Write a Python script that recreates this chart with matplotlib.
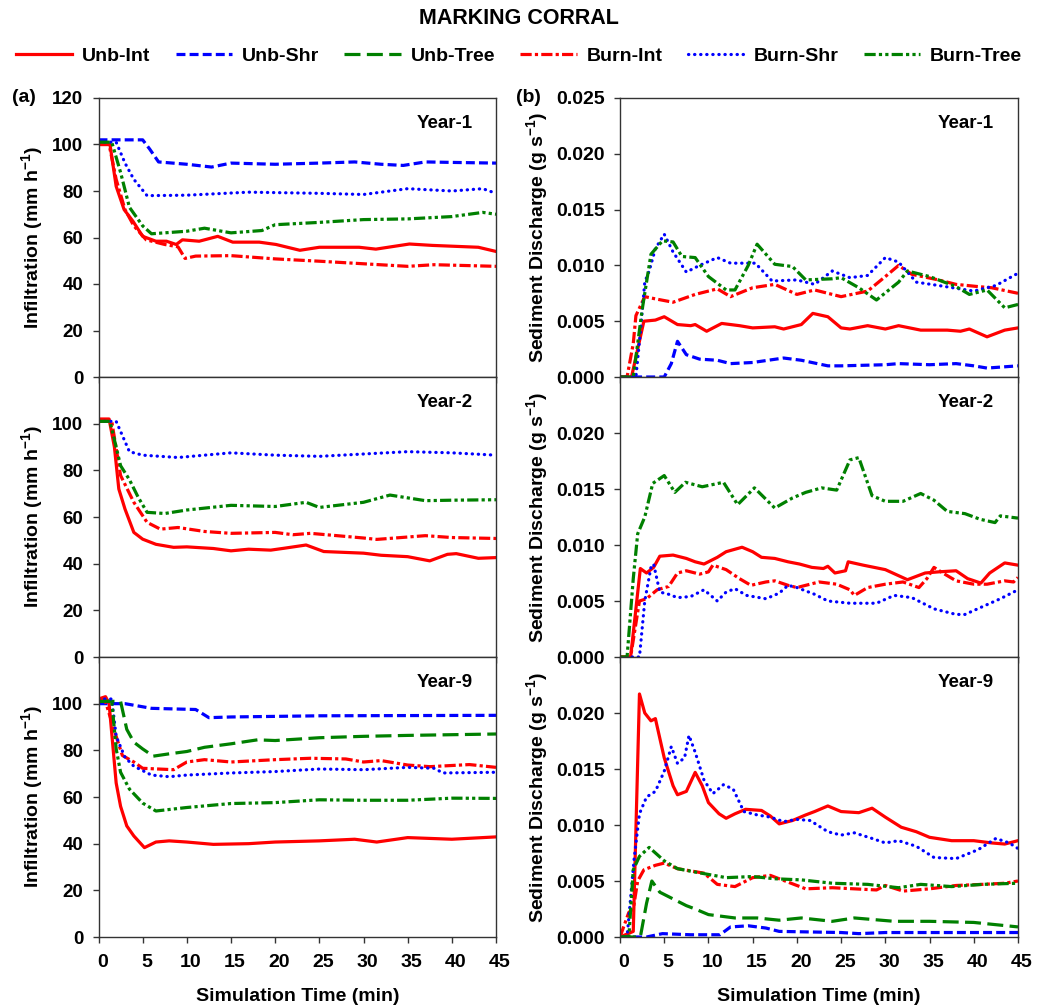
import matplotlib
matplotlib.use("Agg")
import matplotlib.pyplot as plt
import matplotlib.transforms as mtransforms
from matplotlib.lines import Line2D

plt.rcParams['font.family'] = ['Liberation Sans', 'DejaVu Sans']
plt.rcParams['font.weight'] = 'bold'
plt.rcParams['axes.labelweight'] = 'bold'
plt.rcParams['mathtext.fontset'] = 'custom'
plt.rcParams['mathtext.rm'] = 'Liberation Sans:bold'
plt.rcParams['mathtext.it'] = 'Liberation Sans:bold'
plt.rcParams['mathtext.bf'] = 'Liberation Sans:bold'

# ── Data: (time min, value) ──────────────────────────────────────────────
# Infiltration (mm/h)
inf_y1_unb_int = [(0, 100), (1.3, 100), (2, 82), (2.9, 72), (3.9, 67), (5, 60.5), (6.5, 58.4),
                  (7.7, 58.4), (8.8, 57), (9.5, 59), (11.4, 58.4), (13.5, 60.5), (15.2, 58),
                  (18.2, 58), (20.1, 57), (22.8, 54.5), (25, 55.8), (29.5, 55.8), (31.4, 55),
                  (35.2, 57.2), (37.8, 56.6), (43, 55.8), (45, 54)]
inf_y1_unb_shr = [(0, 102), (5, 102), (5.8, 98), (6.8, 92.5), (10, 91.5), (12.8, 90.3), (15, 92),
                  (20, 91.5), (25, 92), (29, 92.5), (32, 91.5), (34.5, 91), (37, 92.5),
                  (40, 92.3), (45, 92)]
inf_y1_burn_int = [(0, 100), (1.2, 100), (2, 85), (3, 72), (4, 65), (5.4, 59), (7.5, 57), (9, 56),
                   (9.8, 51), (11, 52), (15, 52.2), (20, 50.8), (25, 49.8), (30, 48.7),
                   (35, 47.6), (38, 48.3), (45, 47.6)]
inf_y1_burn_shr = [(0, 101), (2, 101), (3, 92), (4, 85), (5.5, 78), (10, 78.2), (17, 79.5),
                   (25, 79), (30, 78.5), (35, 81), (40, 80), (43.5, 81), (45, 79)]
inf_y1_burn_tree = [(0, 101), (1.5, 101), (2.5, 88), (3.5, 73), (5, 65), (6, 61.6), (10, 62.7),
                    (12, 64), (15, 62), (18.5, 63), (20, 65.5), (25, 66.5), (30, 67.7),
                    (35, 68), (40, 69), (43.5, 70.8), (45, 70)]

inf_y2_unb_int = [(0, 102), (1.2, 102), (1.8, 90), (2.3, 72), (3, 63.4), (4, 53.4), (5, 50.5),
                  (6.5, 48.3), (8.5, 47), (10, 47.2), (13, 46.5), (15, 45.5), (17, 46.2),
                  (19.5, 45.8), (21, 46.6), (23.5, 48), (25.5, 45.2), (30, 44.5), (32, 43.6),
                  (35, 43), (37.5, 41.2), (39.5, 44), (40.5, 44.3), (43, 42.3), (45, 42.6)]
inf_y2_burn_int = [(0, 101), (1.5, 101), (2.5, 77.8), (4, 66.3), (5.5, 57.7), (7, 54.8),
                   (9, 55.5), (12, 53.8), (15, 53), (20, 53.4), (22, 52.4), (24, 53), (30, 51),
                   (31.5, 50.4), (37, 52), (40, 51.2), (45, 50.8)]
inf_y2_burn_shr = [(0, 101), (2, 101), (3.5, 88), (5, 86.5), (9, 85.5), (15, 87.5), (20, 86.5),
                   (25, 86), (30, 87), (35, 88), (40, 87.5), (45, 86.5)]
inf_y2_burn_tree = [(0, 101), (1.3, 101), (2.5, 82), (3.5, 76), (4.5, 68.4), (5.5, 62),
                    (7.5, 61.5), (10, 63), (15, 65), (20, 64.5), (23.5, 66.3), (25, 64.1),
                    (30, 66.3), (33, 69.4), (37, 67), (40, 67.2), (45, 67.4)]

inf_y9_unb_int = [(0, 102), (0.8, 103), (1.2, 100), (2, 66), (2.5, 56), (3.2, 47.6), (4, 43.3),
                  (5.2, 38.3), (6.5, 40.7), (8, 41.2), (10, 40.7), (13, 39.7), (17, 40),
                  (20, 40.7), (25, 41.2), (29, 41.9), (31.5, 40.7), (35, 42.6), (40, 41.9),
                  (45, 42.9)]
inf_y9_unb_shr = [(0, 100), (3, 100), (6, 98), (11, 97.5), (12.5, 94), (15, 94.3), (25, 94.8),
                  (45, 95)]
inf_y9_unb_tree = [(0, 101), (2.5, 101), (3.2, 89), (4, 83.5), (5, 80.6), (6.2, 77.5), (8, 78.5),
                   (10, 79.5), (12, 81.3), (15, 82.8), (18, 84.5), (20, 84.2), (25, 85.4),
                   (30, 86), (35, 86.4), (45, 87)]
inf_y9_burn_int = [(0, 102), (0.7, 102), (2, 86), (2.7, 77.8), (4, 75), (5, 72.3), (8.5, 71.7),
                   (10, 75), (12, 76), (15, 75), (20, 76), (24, 76.6), (28, 76.3), (30, 75),
                   (32, 75.6), (35, 73.7), (37.5, 73), (42, 73.9), (45, 72.7)]
inf_y9_burn_shr = [(0, 102), (1.5, 102), (2, 86), (3, 77), (4, 73.2), (6, 69.4), (8, 68.7),
                   (10, 69.4), (15, 70.3), (20, 70.9), (25, 72), (30, 71.7), (35, 72.7),
                   (38, 72.3), (39, 70.3), (45, 70.6)]
inf_y9_burn_tree = [(0, 101), (1.5, 101), (2, 80.6), (2.5, 70.6), (3.5, 63.4), (5, 57.4),
                    (6.5, 54), (10, 55.5), (15, 57.2), (20, 57.6), (25, 58.8), (30, 58.6),
                    (35, 58.6), (40, 59.5), (45, 59.4)]

# Sediment discharge (g/s)
sed_y1_unb_int = [(0, 0), (1.3, 0), (2.7, 0.0050), (4, 0.0051), (5, 0.0054), (6.5, 0.0047),
                  (8, 0.0046), (8.5, 0.0047), (9.8, 0.0041), (11.5, 0.0048), (13.5, 0.0046),
                  (15, 0.0044), (17.5, 0.0045), (18.5, 0.0043), (20.5, 0.0047), (21.8, 0.0057),
                  (23.5, 0.0054), (25, 0.0044), (26, 0.0043), (28, 0.0046), (30, 0.0043),
                  (31.5, 0.0046), (34, 0.0042), (37, 0.0042), (38.5, 0.0041), (39.5, 0.0043),
                  (41.5, 0.0036), (43.5, 0.0042), (45, 0.0044)]
sed_y1_unb_shr = [(0, 0), (5, 0), (5.8, 0.0012), (6.5, 0.0032), (7.5, 0.0020), (9, 0.0016),
                  (11, 0.0015), (12.5, 0.0012), (15, 0.0013), (18.5, 0.0017), (20.5, 0.0015),
                  (23.5, 0.0010), (25, 0.0010), (30, 0.0011), (31.5, 0.0012), (35, 0.0011),
                  (38, 0.0012), (40, 0.0010), (41.5, 0.0008), (45, 0.0010)]
sed_y1_burn_int = [(0, 0), (0.8, 0), (1.5, 0.0030), (1.8, 0.0055), (2.8, 0.0072), (4, 0.0070),
                   (6, 0.0067), (8.5, 0.0074), (11, 0.0079), (12.5, 0.0072), (15, 0.0080),
                   (17.5, 0.0083), (20, 0.0074), (22, 0.0078), (25, 0.0072), (28, 0.0077),
                   (30, 0.0090), (31.5, 0.0100), (33, 0.0092), (36, 0.0087), (38, 0.0083),
                   (40.5, 0.0081), (42, 0.0080), (45, 0.0075)]
sed_y1_burn_shr = [(0, 0), (1.8, 0), (2.3, 0.0040), (2.8, 0.0085), (3.3, 0.0095), (4, 0.0115),
                   (5, 0.0128), (6, 0.0112), (7.5, 0.0094), (9, 0.0100), (11, 0.0107),
                   (12.5, 0.0102), (15.3, 0.0102), (17.2, 0.0086), (20, 0.0087), (22, 0.0083),
                   (24, 0.0095), (26, 0.0089), (28, 0.0091), (30, 0.0107), (31.5, 0.0103),
                   (33.5, 0.0085), (36, 0.0082), (40, 0.0077), (42.5, 0.0082), (45, 0.0093)]
sed_y1_burn_tree = [(0, 0), (1.5, 0), (2.5, 0.0060), (3.5, 0.0110), (4.8, 0.0122), (6, 0.0121),
                    (7, 0.0108), (8.5, 0.0107), (10, 0.0090), (12, 0.0078), (13, 0.0078),
                    (14.5, 0.0100), (15.5, 0.0119), (17.5, 0.0101), (19.5, 0.0099),
                    (21, 0.0087), (24, 0.0088), (25, 0.0089), (27, 0.0080), (29, 0.0069),
                    (31.5, 0.0085), (32.5, 0.0095), (35, 0.0090), (38, 0.0081),
                    (39.5, 0.0074), (41.5, 0.0078), (43.5, 0.0062), (45, 0.0065)]

sed_y2_unb_int = [(0, 0), (1.2, 0), (2.3, 0.0079), (3, 0.0075), (3.8, 0.0080), (4.5, 0.0090),
                  (6, 0.0091), (7.5, 0.0088), (8.5, 0.0085), (9.5, 0.0083), (11, 0.0089),
                  (12, 0.0094), (13.8, 0.0098), (15, 0.0094), (16, 0.0089), (17.5, 0.0088),
                  (19, 0.0085), (20.3, 0.0083), (21.7, 0.0080), (23, 0.0079), (23.5, 0.0081),
                  (24.3, 0.0075), (25.5, 0.0077), (25.8, 0.0085), (27.5, 0.0082),
                  (30, 0.0078), (32.5, 0.0069), (34.5, 0.0075), (36, 0.0076), (38, 0.0077),
                  (39.3, 0.0070), (40.8, 0.0066), (41.8, 0.0075), (43.5, 0.0084), (45, 0.0082)]
sed_y2_burn_int = [(0, 0), (1.2, 0), (2.2, 0.0050), (3, 0.0052), (4.2, 0.0060), (5.5, 0.0063),
                   (6.5, 0.0075), (7.5, 0.0077), (9, 0.0074), (10, 0.0076), (10.5, 0.0082),
                   (12, 0.0078), (13.5, 0.0070), (14.8, 0.0064), (16.5, 0.0067),
                   (17.5, 0.0068), (19, 0.0064), (20, 0.0062), (21.5, 0.0065), (22.5, 0.0067),
                   (24.5, 0.0065), (26, 0.0060), (26.5, 0.0055), (28, 0.0062), (30, 0.0065),
                   (32, 0.0067), (33.8, 0.0062), (34.7, 0.0070), (35.5, 0.0080),
                   (36.5, 0.0075), (38, 0.0068), (40, 0.0065), (41.5, 0.0065), (43.5, 0.0068),
                   (44.5, 0.0067), (45, 0.0071)]
sed_y2_burn_shr = [(0, 0), (2.2, 0), (2.8, 0.0050), (3.5, 0.0080), (3.8, 0.0083), (4.5, 0.0058),
                   (5.5, 0.0056), (6.5, 0.0053), (8, 0.0054), (9.5, 0.0060), (11, 0.0050),
                   (12, 0.0058), (13, 0.0061), (14.3, 0.0055), (16.5, 0.0052), (18, 0.0057),
                   (19, 0.0064), (20, 0.0062), (22, 0.0056), (23.5, 0.0050), (26, 0.0048),
                   (29, 0.0048), (31, 0.0055), (33, 0.0053), (35.5, 0.0043), (38, 0.0038),
                   (39, 0.0038), (41, 0.0045), (43, 0.0052), (45, 0.0060)]
sed_y2_burn_tree = [(0, 0), (0.8, 0), (1.5, 0.0070), (2, 0.0110), (2.8, 0.0125), (3.7, 0.0155),
                    (5, 0.0162), (6.2, 0.0147), (7.4, 0.0156), (9.3, 0.0152), (11.7, 0.0156),
                    (13.3, 0.0136), (15.2, 0.0151), (17.5, 0.0133), (19.5, 0.0142),
                    (21, 0.0147), (22.8, 0.0151), (24.5, 0.0149), (26, 0.0176), (27, 0.0178),
                    (28.5, 0.0144), (30, 0.0139), (32, 0.0139), (34, 0.0146), (35.5, 0.0140),
                    (37, 0.0130), (39, 0.0128), (40.7, 0.0123), (42.4, 0.0120), (43, 0.0126),
                    (45, 0.0124)]

sed_y9_unb_int = [(0, 0), (1.5, 0.0005), (2.2, 0.0217), (2.8, 0.0200), (3.5, 0.0193),
                  (4, 0.0195), (5, 0.0160), (6, 0.0135), (6.5, 0.0127), (7.5, 0.0130),
                  (8.5, 0.0147), (9.3, 0.0135), (10, 0.0120), (11.2, 0.0110), (12, 0.0106),
                  (13, 0.0110), (14.2, 0.0114), (16, 0.0113), (17, 0.0108), (18, 0.0101),
                  (19.5, 0.0104), (21, 0.0109), (22, 0.0112), (23.5, 0.0117), (25, 0.0112),
                  (27, 0.0111), (28.5, 0.0115), (30, 0.0107), (31.8, 0.0098), (33.5, 0.0094),
                  (35, 0.0089), (37.5, 0.0086), (40, 0.0086), (42, 0.0084), (43.5, 0.0083),
                  (45, 0.0086)]
sed_y9_unb_shr = [(0, 0), (3, 0), (4.8, 0.0003), (8, 0.0002), (11.3, 0.0002), (12.5, 0.0009),
                  (14.5, 0.0010), (16.5, 0.0008), (18, 0.0005), (25, 0.0004), (27, 0.0003),
                  (30, 0.0004), (45, 0.0004)]
sed_y9_unb_tree = [(0, 0), (2.3, 0), (3, 0.0030), (3.6, 0.0050), (4.5, 0.0040), (6, 0.0034),
                   (7.5, 0.0028), (8.5, 0.0025), (10, 0.0020), (13, 0.0017), (15.5, 0.0017),
                   (18, 0.0015), (20.5, 0.0017), (24, 0.0014), (26.5, 0.0017), (31, 0.0014),
                   (35, 0.0014), (40, 0.0013), (45, 0.0009)]
sed_y9_burn_int = [(0, 0), (1, 0.0022), (1.5, 0.0025), (2, 0.0050), (2.7, 0.0060), (4, 0.0064),
                   (5, 0.0066), (6.5, 0.0061), (9.5, 0.0057), (11, 0.0047), (13, 0.0045),
                   (15, 0.0053), (17, 0.0055), (19, 0.0049), (21, 0.0043), (24, 0.0044),
                   (29, 0.0042), (30, 0.0046), (32, 0.0041), (35, 0.0043), (38, 0.0046),
                   (41, 0.0047), (43.5, 0.0048), (45, 0.0050)]
sed_y9_burn_shr = [(0, 0), (0.8, 0), (1.6, 0.0070), (2.2, 0.0110), (3, 0.0125), (4, 0.0130),
                   (5, 0.0148), (5.8, 0.0170), (6.5, 0.0155), (7.3, 0.0160), (7.8, 0.0180),
                   (8.5, 0.0165), (9.5, 0.0140), (10.5, 0.0128), (11.7, 0.0136),
                   (12.8, 0.0132), (14, 0.0112), (15.5, 0.0109), (17, 0.0107), (18.5, 0.0103),
                   (20, 0.0105), (21.5, 0.0104), (23.5, 0.0094), (25, 0.0091), (26.5, 0.0093),
                   (28.5, 0.0088), (30, 0.0084), (31.5, 0.0086), (33.5, 0.0081),
                   (35.5, 0.0071), (38, 0.0070), (40.5, 0.0078), (42.5, 0.0088), (44, 0.0084),
                   (45, 0.0079)]
sed_y9_burn_tree = [(0, 0), (1, 0), (1.5, 0.0060), (2.2, 0.0072), (3.3, 0.0080), (5, 0.0068),
                    (6.5, 0.0061), (8.5, 0.0058), (12, 0.0053), (15, 0.0054), (17.5, 0.0052),
                    (20.5, 0.0051), (24, 0.0048), (28, 0.0047), (31.5, 0.0044), (34, 0.0047),
                    (37.5, 0.0045), (41, 0.0047), (45, 0.0048)]

series_names = ['Unb-Int', 'Unb-Shr', 'Unb-Tree', 'Burn-Int', 'Burn-Shr', 'Burn-Tree']
year_labels = ['Year-1', 'Year-2', 'Year-9']

# ── Styles ───────────────────────────────────────────────────────────────
LW = 2.3
STYLE = {
    'Unb-Int':   dict(color='#FF0000', linestyle='-'),
    'Unb-Shr':   dict(color='#0000FF', linestyle=(0, (2.8, 1.3))),
    'Unb-Tree':  dict(color='#008000', linestyle=(0, (5.0, 2.0))),
    'Burn-Int':  dict(color='#FF0000', linestyle=(0, (3.5, 1.0, 1.0, 1.0))),
    'Burn-Shr':  dict(color='#0000FF', linestyle=(0, (0.1, 1.8)), dash_capstyle='round'),
    'Burn-Tree': dict(color='#008000', linestyle=(0, (3.5, 1.0, 1.0, 1.0, 1.0, 1.0))),
}

panels_inf = [
    {'Unb-Int': inf_y1_unb_int, 'Unb-Shr': inf_y1_unb_shr, 'Burn-Int': inf_y1_burn_int,
     'Burn-Shr': inf_y1_burn_shr, 'Burn-Tree': inf_y1_burn_tree},
    {'Unb-Int': inf_y2_unb_int, 'Burn-Int': inf_y2_burn_int,
     'Burn-Shr': inf_y2_burn_shr, 'Burn-Tree': inf_y2_burn_tree},
    {'Unb-Int': inf_y9_unb_int, 'Unb-Shr': inf_y9_unb_shr, 'Unb-Tree': inf_y9_unb_tree,
     'Burn-Int': inf_y9_burn_int, 'Burn-Shr': inf_y9_burn_shr, 'Burn-Tree': inf_y9_burn_tree},
]
panels_sed = [
    {'Unb-Int': sed_y1_unb_int, 'Unb-Shr': sed_y1_unb_shr, 'Burn-Int': sed_y1_burn_int,
     'Burn-Shr': sed_y1_burn_shr, 'Burn-Tree': sed_y1_burn_tree},
    {'Unb-Int': sed_y2_unb_int, 'Burn-Int': sed_y2_burn_int,
     'Burn-Shr': sed_y2_burn_shr, 'Burn-Tree': sed_y2_burn_tree},
    {'Unb-Int': sed_y9_unb_int, 'Unb-Shr': sed_y9_unb_shr, 'Unb-Tree': sed_y9_unb_tree,
     'Burn-Int': sed_y9_burn_int, 'Burn-Shr': sed_y9_burn_shr, 'Burn-Tree': sed_y9_burn_tree},
]

# ── Figure / axes layout (pixel-matched) ─────────────────────────────────
W, H = 1038, 1007
fig = plt.figure(figsize=(W / 100, H / 100), dpi=100)

col_x = [(98.5, 397.5), (620, 398)]
row_y = [(98, 377), (377, 657), (657, 937)]
LABEL_FS = 14
SPINE_C = '#333333'
x_shift = mtransforms.ScaledTranslation(4 / 100, 0, fig.dpi_scale_trans)

for col, panels in enumerate([panels_inf, panels_sed]):
    x0, w = col_x[col]
    for row, data in enumerate(panels):
        top, bot = row_y[row]
        ax = fig.add_axes([x0 / W, 1 - bot / H, w / W, (bot - top) / H])
        for name in series_names:
            if name not in data:
                continue
            pts = data[name]
            ax.plot([p[0] for p in pts], [p[1] for p in pts], lw=LW, **STYLE[name])

        ax.set_xlim(0, 45)
        ax.set_xticks(range(0, 46, 5))
        if col == 0:
            ax.set_ylim(0, 120)
            ax.set_yticks(range(0, 121 if row == 0 else 101, 20))
            ax.set_ylabel(r'Infiltration (mm h$^{-1}$)', fontsize=LABEL_FS)
            ax.yaxis.set_label_coords(-0.135, 0.5)
            ax.tick_params(axis='y', labelsize=13.5)
        else:
            ax.set_ylim(0, 0.025)
            ticks = [0, 0.005, 0.010, 0.015, 0.020, 0.025] if row == 0 else [0, 0.005, 0.010, 0.015, 0.020]
            ax.set_yticks(ticks)
            ax.set_yticklabels(['%.3f' % t for t in ticks])
            ax.set_ylabel(r'Sediment Discharge (g s$^{-1}$)', fontsize=LABEL_FS)
            ax.yaxis.set_label_coords(-0.176, 0.5)
            ax.tick_params(axis='y', labelsize=14)

        ax.tick_params(axis='both', direction='out', length=4, width=1, color=SPINE_C)
        ax.tick_params(axis='x', labelsize=14, pad=8)
        ax.tick_params(axis='y', pad=7)
        for s in ax.spines.values():
            s.set_color(SPINE_C)
            s.set_linewidth(1.0)

        if row == 2:
            ax.set_xlabel('Simulation Time (min)', fontsize=LABEL_FS)
            ax.xaxis.label.set_va('center')
            ax.xaxis.set_label_coords(0.5, -0.214)
            for lab in ax.get_xticklabels():
                lab.set_transform(lab.get_transform() + x_shift)
        else:
            ax.tick_params(labelbottom=False)

        ax.text(0.87, 0.91, year_labels[row], transform=ax.transAxes,
                ha='center', va='center', fontsize=13.5, fontweight='bold')

# ── Panel letters, title, legend ─────────────────────────────────────────
fig.text(24 / W, 1 - 97 / H, '(a)', ha='center', va='center', fontsize=14, fontweight='bold')
fig.text(528 / W, 1 - 97 / H, '(b)', ha='center', va='center', fontsize=14, fontweight='bold')
fig.text(0.5, 1 - 19 / H, 'MARKING CORRAL', ha='center', va='center', fontsize=15.5,
         fontweight='bold')

handles = [Line2D([], [], lw=LW, **STYLE[n]) for n in series_names]
fig.legend(handles, series_names, loc='center', bbox_to_anchor=(0.5, 1 - 56 / H), ncol=6,
           frameon=False, fontsize=14, handlelength=2.9, handletextpad=0.5,
           columnspacing=1.3, borderaxespad=0)

fig.savefig('out.png', dpi=100)
